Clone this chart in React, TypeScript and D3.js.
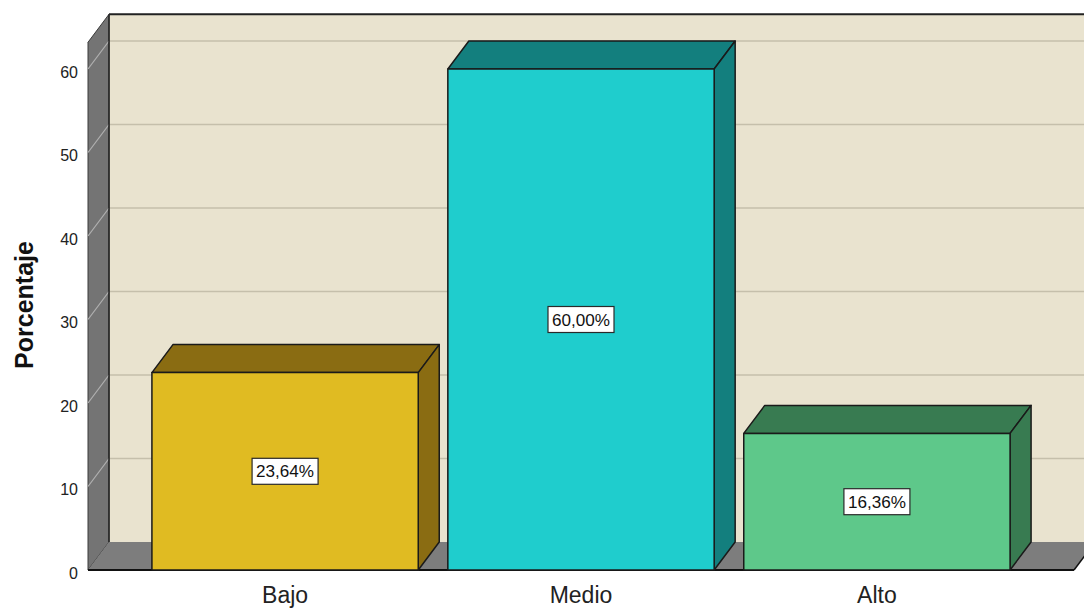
import React from "react";
import * as d3 from "d3";

const categories = ["Bajo", "Medio", "Alto"];
const values = [23.64, 60.0, 16.36];
const valueLabels = ["23,64%", "60,00%", "16,36%"];
const yTicks = [0, 10, 20, 30, 40, 50, 60];
const frontColors = ["#e0bb22", "#1fcdcd", "#5ec88a"];
const darkColors = ["#8a6c12", "#137f7e", "#387b51"];

const W = 1084;
const H = 609;
const FONT = "'Liberation Sans', Arial, sans-serif";

export default function App() {
  const x0 = 88;
  const x1 = 1074;
  const dx = 21;
  const dy = -28;
  const y = d3.scaleLinear().domain([0, 60]).range([570, 69]);
  const yMax = 63.2;
  const x = d3
    .scaleBand<string>()
    .domain(categories)
    .range([x0, x1])
    .paddingInner(0.1)
    .paddingOuter(0.216);
  const bw = x.bandwidth();
  const base = y(0);
  const top = y(yMax);

  return (
    <svg
      width={W}
      height={H}
      style={{ position: "absolute", left: 0, top: 0, background: "#fff" }}
      fontFamily={FONT}
    >
      {/* back wall */}
      <rect x={x0 + dx} y={top + dy} width={x1 - x0 + 40} height={base - top} fill="#e9e3cf" />
      {yTicks
        .filter((t) => t > 0)
        .map((t) => (
          <line
            key={"g" + t}
            x1={x0 + dx}
            x2={W + 10}
            y1={y(t) + dy}
            y2={y(t) + dy}
            stroke="#c5bfab"
            strokeWidth={1.5}
          />
        ))}
      <line x1={x0 + dx} x2={W + 10} y1={top + dy} y2={top + dy} stroke="#222" strokeWidth={2} />
      {/* side wall */}
      <polygon
        points={`${x0},${top} ${x0 + dx},${top + dy} ${x0 + dx},${base + dy} ${x0},${base}`}
        fill="#747474"
        stroke="#3a3a3a"
        strokeWidth={1}
      />
      {yTicks
        .filter((t) => t > 0)
        .map((t) => (
          <line
            key={"s" + t}
            x1={x0}
            x2={x0 + dx}
            y1={y(t)}
            y2={y(t) + dy}
            stroke="#b0b0b0"
            strokeWidth={1.2}
          />
        ))}
      <line x1={x0 + dx} x2={x0 + dx} y1={top + dy} y2={base + dy} stroke="#222" strokeWidth={1.5} />
      {/* floor */}
      <polygon
        points={`${x0},${base} ${x1},${base} ${x1 + dx},${base + dy} ${x0 + dx},${base + dy}`}
        fill="#7d7d7d"
      />
      <line x1={x0} x2={x1} y1={base} y2={base} stroke="#111" strokeWidth={2} />
      <line x1={x1} x2={x1 + dx} y1={base} y2={base + dy} stroke="#111" strokeWidth={1.5} />
      {/* bars */}
      {categories.map((c, i) => {
        const bx = x(c)!;
        const by = y(values[i]);
        return (
          <g key={c} stroke="#1a1a1a" strokeWidth={1.5} strokeLinejoin="round">
            <polygon
              points={`${bx},${by} ${bx + dx},${by + dy} ${bx + bw + dx},${by + dy} ${bx + bw},${by}`}
              fill={darkColors[i]}
            />
            <polygon
              points={`${bx + bw},${by} ${bx + bw + dx},${by + dy} ${bx + bw + dx},${base + dy} ${bx + bw},${base}`}
              fill={darkColors[i]}
            />
            <rect x={bx} y={by} width={bw} height={base - by} fill={frontColors[i]} />
          </g>
        );
      })}
      {/* value labels */}
      {categories.map((c, i) => {
        const cx = x(c)! + bw / 2;
        const cy = (y(values[i]) + base) / 2;
        return (
          <g key={"l" + c}>
            <rect
              x={cx - 33}
              y={cy - 13}
              width={66}
              height={26}
              fill="#fff"
              stroke="#2a2a2a"
              strokeWidth={1.2}
            />
            <text
              x={cx}
              y={cy}
              dy="0.36em"
              textAnchor="middle"
              fontSize={17}
              textLength={58}
              lengthAdjust="spacingAndGlyphs"
              fill="#111"
            >
              {valueLabels[i]}
            </text>
          </g>
        );
      })}
      {/* y tick labels */}
      {yTicks.map((t) => (
        <text
          key={"t" + t}
          x={78}
          y={y(t) + 3}
          dy="0.35em"
          textAnchor="end"
          fontSize={16}
          fill="#222"
        >
          {t}
        </text>
      ))}
      {/* category labels */}
      {categories.map((c) => (
        <text
          key={"c" + c}
          x={x(c)! + bw / 2}
          y={603}
          textAnchor="middle"
          fontSize={23}
          fill="#222"
        >
          {c}
        </text>
      ))}
      <text
        transform="translate(33,305) rotate(-90)"
        textAnchor="middle"
        fontSize={25}
        fontWeight="bold"
        fill="#111"
      >
        Porcentaje
      </text>
    </svg>
  );
}
